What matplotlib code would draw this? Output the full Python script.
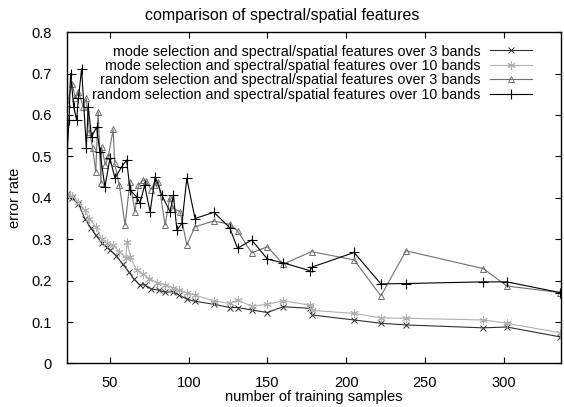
import numpy as np
import matplotlib.pyplot as plt

plt.rcParams['font.family'] = ['Liberation Sans', 'DejaVu Sans']

# mode selection, 3 bands
x_m3 = [23, 26, 30, 34, 38, 41, 45, 48, 50, 54, 58, 62, 65, 69, 72, 76, 81, 85, 90, 94, 99, 104,
        116, 126, 131, 140, 150, 160, 177, 178.5, 205, 222, 238, 287, 302, 336]
y_m3 = [0.41, 0.40, 0.386, 0.35, 0.326, 0.31, 0.29, 0.28, 0.274, 0.26, 0.24, 0.221, 0.205, 0.189,
        0.19, 0.18, 0.177, 0.172, 0.173, 0.165, 0.155, 0.150,
        0.143, 0.135, 0.135, 0.129, 0.123, 0.137, 0.133, 0.117, 0.105, 0.097, 0.093, 0.086, 0.088, 0.064]

# mode selection, 10 bands
x_m10 = [23, 26, 30, 34, 37, 41, 45, 48, 52, 56, 60, 61, 63, 67, 71, 75, 80, 85, 90, 94, 99, 104,
         116, 126, 131, 140, 150, 160, 177, 178.5, 205, 222, 238, 287, 302, 336]
y_m10 = [0.41, 0.405, 0.39, 0.37, 0.35, 0.33, 0.30, 0.29, 0.285, 0.27, 0.255, 0.294, 0.257, 0.225,
         0.215, 0.205, 0.195, 0.19, 0.183, 0.178, 0.17, 0.165,
         0.151, 0.145, 0.153, 0.138, 0.143, 0.151, 0.141, 0.128, 0.121, 0.110, 0.109, 0.105, 0.097, 0.074]

# random selection, 3 bands
x_r3 = [23, 26, 28, 30, 33, 35, 37, 39, 41, 42.5, 44.3, 44.7, 47, 49, 52, 53, 56, 59.6, 62.7,
        65.9, 68, 71.2, 73.2, 76, 78, 80.8, 85, 88, 90.3, 94.6, 98.8, 104,
        116, 126, 131, 140, 150, 160, 178, 205, 222, 238, 287, 302, 336]
y_r3 = [0.63, 0.676, 0.64, 0.656, 0.62, 0.64, 0.56, 0.52, 0.463, 0.608, 0.435, 0.523, 0.48, 0.50,
        0.565, 0.483, 0.43, 0.334, 0.439, 0.366, 0.43, 0.443, 0.44, 0.42, 0.43, 0.439, 0.334,
        0.40, 0.374, 0.366, 0.286, 0.33,
        0.344, 0.336, 0.320, 0.267, 0.282, 0.240, 0.270, 0.250, 0.163, 0.272, 0.229, 0.187, 0.171]

# random selection, 10 bands
x_r10 = [23, 24, 25, 27, 28.8, 30, 32, 35, 36.2, 38.3, 41.5, 43.6, 46.8, 50, 53.2, 57.4, 60.6,
         62.7, 67, 69.1, 72, 75.5, 78.7, 82.9, 88.2, 90.3, 92.5, 95.7, 98.8, 104,
         116, 126, 131, 140, 150, 160, 177, 178.5, 205, 222, 238, 287, 302, 336]
y_r10 = [0.52, 0.588, 0.70, 0.62, 0.588, 0.64, 0.712, 0.52, 0.62, 0.547, 0.571, 0.511, 0.427,
         0.495, 0.447, 0.475, 0.491, 0.419, 0.402, 0.387, 0.43, 0.366, 0.451, 0.407, 0.366, 0.407,
         0.322, 0.338, 0.447, 0.35,
         0.365, 0.328, 0.278, 0.298, 0.252, 0.243, 0.224, 0.233, 0.268, 0.192, 0.193, 0.197, 0.197, 0.171]

labels = ['mode selection and spectral/spatial features over 3 bands',
          'mode selection and spectral/spatial features over 10 bands',
          'random selection and spectral/spatial features over 3 bands',
          'random selection and spectral/spatial features over 10 bands']

fig = plt.figure(figsize=(5.64, 4.07), dpi=100)
ax = fig.add_axes([0.119, 0.107, 0.876, 0.814])

ax.plot(x_m3, y_m3, color='#303030', lw=0.8, marker='x', ms=5, mew=0.7, label=labels[0])
ax.plot(x_m10, y_m10, color='#b0b0b0', lw=0.8, marker=(6, 2, 0), ms=6, mew=0.7, label=labels[1])
ax.plot(x_r3, y_r3, color='#707070', lw=0.8, marker='^', ms=5, mew=0.7, mfc='none', label=labels[2])
ax.plot(x_r10, y_r10, color='black', lw=0.8, marker='+', ms=7, mew=0.8, label=labels[3])

ax.set_xlim(22.8, 336.5)
ax.set_ylim(0, 0.8)
ax.set_xticks([50, 100, 150, 200, 250, 300])
ax.set_yticks(np.arange(0, 0.81, 0.1))
ax.set_yticklabels(['0', '0.1', '0.2', '0.3', '0.4', '0.5', '0.6', '0.7', '0.8'])
ax.tick_params(direction='in', top=True, right=True, length=4, labelsize=10.5)
ax.tick_params(axis='y', pad=11)
ax.tick_params(axis='x', pad=9)
for s in ax.spines.values():
    s.set_linewidth(1.0)

# title is centred on the whole canvas, not on the axes
fig.text(0.5, 0.962, 'comparison of spectral/spatial features', fontsize=11.5,
         ha='center', va='center')
ax.set_xlabel('number of training samples', fontsize=10.5, labelpad=0)
ax.set_ylabel('error rate', fontsize=10.5, labelpad=7)

leg = ax.legend(loc='upper right', bbox_to_anchor=(0.952, 0.98), borderaxespad=0,
                frameon=False, markerfirst=False, fontsize=10.3,
                handlelength=2.9, labelspacing=0.03, handletextpad=0.7)
leg.set_zorder(1)  # data is drawn over the key, as in the original

fig.savefig('out.png', dpi=100)
